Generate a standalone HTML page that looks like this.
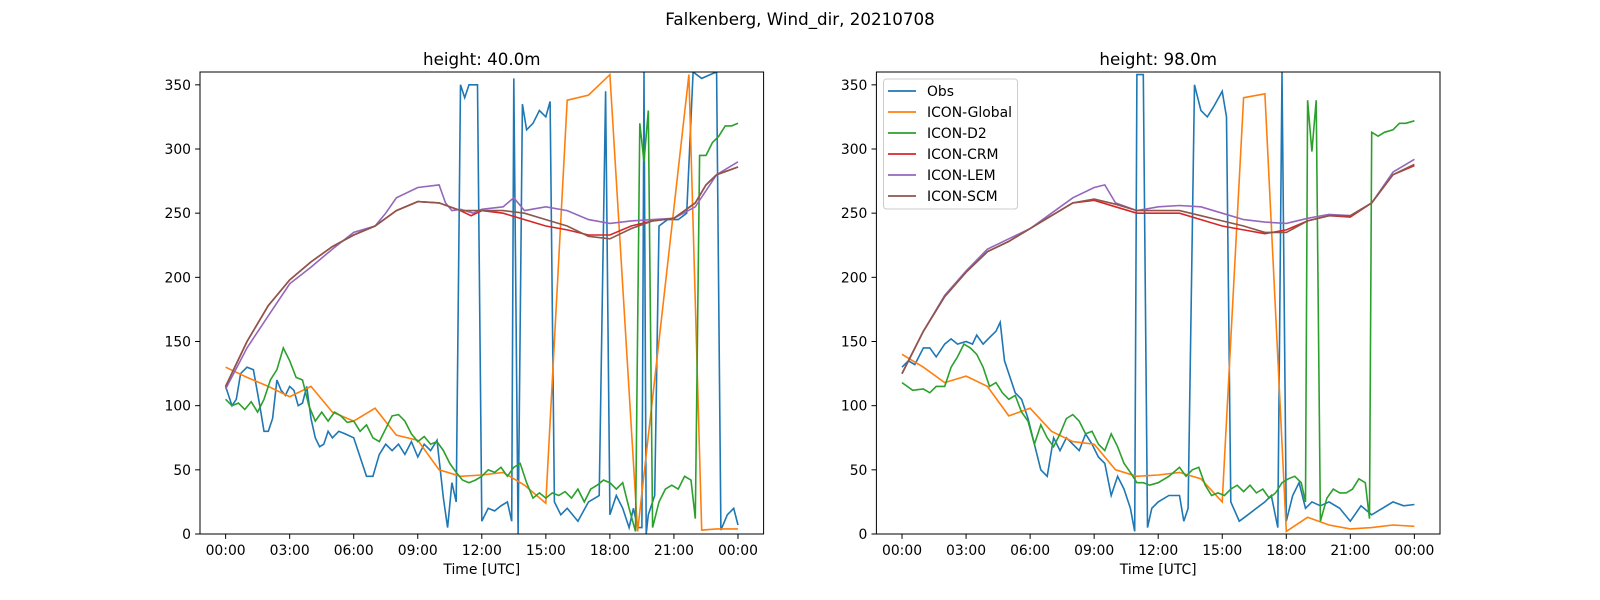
<!DOCTYPE html>
<html><head><meta charset="utf-8"><style>
body{margin:0;background:#fff;}
svg{display:block;font-family:"DejaVu Sans","Liberation Sans",sans-serif;}
</style></head><body>
<svg id="chart" width="1600" height="600" viewBox="0 0 1600 600">
<rect width="1600" height="600" fill="#fff"/>
<text x="800" y="25" font-size="16.7" text-anchor="middle">Falkenberg, Wind_dir, 20210708</text>
</svg>
<script>
const seriesNames=["Obs","ICON-Global","ICON-D2","ICON-CRM","ICON-LEM","ICON-SCM"];
const colors=["#1f77b4","#ff7f0e","#2ca02c","#d62728","#9467bd","#8c564b"];
const yTicks=[0,50,100,150,200,250,300,350];
const xTickHours=[0,3,6,9,12,15,18,21,24];
const xTickLabels=["00:00","03:00","06:00","09:00","12:00","15:00","18:00","21:00","00:00"];
const heights=["height: 40.0m","height: 98.0m"];
// [hour, value] pairs
const obs40=[[0,115],[0.3,100],[0.5,105],[0.7,125],[1,130],[1.3,128],[1.6,100],[1.8,80],[2,80],[2.2,90],[2.4,120],[2.6,112],[2.8,108],[3,115],[3.2,112],[3.4,100],[3.6,102],[3.8,115],[4,90],[4.2,75],[4.4,68],[4.6,70],[4.8,80],[5,75],[5.3,80],[5.6,78],[6,75],[6.3,60],[6.6,45],[6.9,45],[7.2,62],[7.5,70],[7.8,65],[8.1,70],[8.4,62],[8.7,72],[9,60],[9.3,70],[9.6,65],[9.9,73],[10.2,28],[10.4,5],[10.6,40],[10.8,25],[11,350],[11.2,340],[11.4,350],[11.8,350],[12,10],[12.3,20],[12.6,18],[12.9,22],[13.2,25],[13.4,10],[13.5,355],[13.7,0],[13.9,335],[14.1,315],[14.4,320],[14.7,330],[15,325],[15.2,337],[15.4,25],[15.7,15],[16,20],[16.5,10],[17,25],[17.5,30],[17.8,345],[18,15],[18.3,30],[18.6,20],[18.9,5],[19.1,20],[19.3,5],[19.5,5],[19.6,360],[19.7,0],[19.8,15],[20.1,30],[20.3,240],[20.7,245],[21.2,245],[21.6,250],[21.9,360],[22.3,355],[22.7,358],[23,360],[23.2,3],[23.5,15],[23.8,20],[24,7]];
const obs98=[[0,130],[0.3,135],[0.6,132],[1,145],[1.3,145],[1.6,138],[2,148],[2.3,152],[2.6,148],[3,150],[3.3,148],[3.5,155],[3.8,148],[4.1,153],[4.4,158],[4.6,165],[4.8,135],[5,125],[5.3,110],[5.6,105],[5.9,90],[6.2,70],[6.5,50],[6.8,45],[7.1,75],[7.4,65],[7.7,75],[8,70],[8.3,65],[8.6,78],[8.9,70],[9.2,60],[9.5,55],[9.8,30],[10.1,45],[10.4,35],[10.7,20],[10.9,2],[11,358],[11.3,358],[11.5,5],[11.7,20],[12,25],[12.5,30],[13,30],[13.2,10],[13.4,20],[13.7,350],[14,330],[14.3,325],[14.6,333],[15,345],[15.2,325],[15.4,25],[15.8,10],[16.2,15],[16.6,20],[17,25],[17.3,30],[17.6,5],[17.8,360],[18,10],[18.3,30],[18.6,40],[18.9,20],[19.2,25],[19.6,22],[20,25],[20.5,20],[21,10],[21.5,22],[22,15],[22.5,20],[23,25],[23.5,22],[24,23]];
const global40=[[0,130],[1,122],[2,115],[3,107],[4,115],[5,95],[6,88],[7,98],[8,77],[9,73],[10,50],[11,45],[12,46],[13,48],[14,38],[15,24],[16,338],[17,342],[18,358],[19.3,2],[21.7,358],[22.3,3],[23,4],[24,4]];
const global98=[[0,140],[1,130],[2,118],[3,123],[4,115],[5,92],[6,98],[7,80],[8,72],[9,70],[10,50],[11,45],[12,46],[13,48],[14,43],[15,25],[16,340],[17,343],[18,2],[19,13],[20,7],[21,4],[22,5],[23,7],[24,6]];
const d240=[[0,105],[0.3,100],[0.6,102],[0.9,97],[1.2,103],[1.5,95],[1.8,105],[2.1,120],[2.4,128],[2.7,145],[3,135],[3.3,122],[3.6,120],[3.9,100],[4.2,88],[4.5,95],[4.8,88],[5.1,95],[5.4,92],[5.7,87],[6,88],[6.3,80],[6.6,85],[6.9,75],[7.2,72],[7.5,82],[7.8,92],[8.1,93],[8.4,88],[8.7,78],[9,72],[9.3,76],[9.6,70],[9.9,72],[10.2,65],[10.5,55],[10.8,48],[11.1,42],[11.4,40],[11.7,42],[12,45],[12.3,50],[12.6,48],[12.9,52],[13.2,45],[13.5,52],[13.8,55],[14.1,40],[14.4,28],[14.7,32],[15,28],[15.3,32],[15.6,30],[15.9,33],[16.2,28],[16.5,35],[16.8,25],[17.1,35],[17.4,38],[17.7,42],[18,40],[18.3,35],[18.6,40],[18.9,20],[19.2,2],[19.4,320],[19.6,290],[19.8,330],[20,5],[20.3,25],[20.6,35],[20.9,38],[21.2,35],[21.5,45],[21.8,42],[22,12],[22.2,295],[22.5,295],[22.8,305],[23.1,310],[23.4,318],[23.7,318],[24,320]];
const d298=[[0,118],[0.5,112],[1,113],[1.3,110],[1.6,115],[2,115],[2.3,130],[2.6,138],[2.9,148],[3.2,145],[3.5,140],[3.8,130],[4.1,115],[4.4,118],[4.7,110],[5,105],[5.3,108],[5.6,95],[5.9,88],[6.2,70],[6.5,85],[6.8,75],[7.1,68],[7.4,78],[7.7,90],[8,93],[8.3,88],[8.6,78],[8.9,80],[9.2,70],[9.5,65],[9.8,78],[10.1,68],[10.4,55],[10.7,48],[11,40],[11.3,40],[11.6,38],[12,40],[12.5,45],[13,52],[13.3,45],[13.6,50],[13.9,52],[14.2,38],[14.5,30],[14.8,32],[15.1,30],[15.4,35],[15.7,38],[16,33],[16.3,38],[16.6,32],[16.9,35],[17.2,28],[17.5,32],[17.8,40],[18.1,43],[18.4,45],[18.7,40],[18.9,25],[19,338],[19.2,298],[19.4,338],[19.6,10],[19.9,28],[20.2,35],[20.5,32],[20.8,32],[21.1,35],[21.4,43],[21.7,40],[21.9,12],[22,313],[22.3,310],[22.6,313],[23,315],[23.3,320],[23.6,320],[24,322]];
const crm40=[[0,115],[1,150],[2,178],[3,198],[4,212],[5,224],[6,233],[7,240],[8,252],[9,259],[10,258],[11,252],[11.5,248],[12,252],[13,250],[14,245],[15,240],[16,237],[17,233],[18,233],[19,240],[20,244],[21,246],[22,258],[22.5,272],[23,280],[24,286]];
const lem40=[[0,113],[1,145],[2,170],[3,195],[4,208],[5,222],[6,235],[7,240],[7.5,250],[8,262],[9,270],[10,272],[10.3,258],[10.6,252],[11,253],[11.6,250],[12,253],[13,255],[13.5,262],[14,252],[15,255],[16,252],[17,245],[18,242],[19,244],[20,245],[21,246],[22,255],[23,280],[24,290]];
const scm40=[[0,115],[1,150],[2,178],[3,198],[4,212],[5,224],[6,233],[7,240],[8,252],[9,259],[10,258],[11,252],[12,252],[13,252],[14,250],[15,245],[16,240],[17,232],[18,230],[19,238],[20,244],[21,246],[22,258],[22.5,272],[23,280],[24,286]];
const crm98=[[0,125],[1,158],[2,185],[3,204],[4,220],[5,228],[6,238],[7,248],[8,258],[9,260],[10,255],[11,250],[12,250],[13,250],[14,245],[15,240],[16,237],[17,234],[18,237],[19,244],[20,248],[21,247],[22,258],[23,280],[24,287]];
const lem98=[[0,125],[1,158],[2,186],[3,205],[4,222],[5,230],[6,238],[7,250],[8,262],[9,270],[9.5,272],[10,258],[11,252],[12,255],[13,256],[14,255],[15,250],[16,245],[17,243],[18,242],[19,246],[20,249],[21,248],[22,258],[23,282],[24,292]];
const scm98=[[0,125],[1,158],[2,185],[3,204],[4,220],[5,228],[6,238],[7,248],[8,258],[9,261],[10,257],[11,252],[12,252],[13,252],[14,248],[15,244],[16,240],[17,235],[18,235],[19,244],[20,248],[21,248],[22,258],[23,280],[24,288]];
const panels=[[obs40,global40,d240,crm40,lem40,scm40],[obs98,global98,d298,crm98,lem98,scm98]];

const NS="http://www.w3.org/2000/svg";
const svg=document.getElementById("chart");
function mk(tag,attrs,parent){const e=document.createElementNS(NS,tag);for(const k in attrs)e.setAttribute(k,attrs[k]);(parent||svg).appendChild(e);return e;}
const boxes=[{l:200,r:763.6},{l:876.4,r:1440}];
const yTop=72,yBot=534;
boxes.forEach((b,pi)=>{
  const x0=b.l+(b.r-b.l)/(24*1.1)*1.2;const pxh=(b.r-b.l)/(24*1.1);
  const xs=h=>x0+h*pxh;
  const ys=v=>yBot-(v/360)*(yBot-yTop);
  const g=mk("g",{});
  
  
  const t=mk("text",{x:(b.l+b.r)/2,y:yTop-7,"font-size":16.7,"text-anchor":"middle"},g);
  t.textContent=heights[pi];
  
  
  yTicks.forEach(v=>{
    mk("line",{x1:b.l-4.9,x2:b.l,y1:ys(v),y2:ys(v),stroke:"#000"},g);
    const tt=mk("text",{x:b.l-9,y:ys(v)+5,"font-size":13.9,"text-anchor":"end"},g);
    tt.textContent=v;
    
    
  });
  xTickHours.forEach((h,i)=>{
    mk("line",{x1:xs(h),x2:xs(h),y1:yBot,y2:yBot+4.9,stroke:"#000"},g);
    const tt=mk("text",{x:xs(h),y:yBot+21,"font-size":13.9,"text-anchor":"middle"},g);
    tt.textContent=xTickLabels[i];
    
    
  });
  const xl=mk("text",{x:(b.l+b.r)/2,y:yBot+40,"font-size":13.9,"text-anchor":"middle"},g);
  xl.textContent="Time [UTC]";
  
  
  const cp=mk("clipPath",{id:"cp"+pi},g);
  mk("rect",{x:b.l,y:yTop,width:b.r-b.l,height:yBot-yTop},cp);
  panels[pi].forEach((s,si)=>{
    const p=mk("polyline",{points:s.map(d=>xs(d[0]).toFixed(1)+","+ys(d[1]).toFixed(1)).join(" "),fill:"none",stroke:colors[si],"stroke-width":1.6,"clip-path":"url(#cp"+pi+")"},g);
    
    
  });
  mk("rect",{x:b.l,y:yTop,width:b.r-b.l,height:yBot-yTop,fill:"none",stroke:"#000","stroke-width":1},g);
});
const lg=mk("g",{});


mk("rect",{x:883.5,y:79,width:134,height:130,rx:3,fill:"#fff",stroke:"#ccc"},lg);
seriesNames.forEach((n,i)=>{
  const y=91+i*21;
  mk("line",{x1:888,x2:916,y1:y,y2:y,stroke:colors[i],"stroke-width":1.8},lg);
  const t=mk("text",{x:927,y:y+5,"font-size":13.9},lg);
  t.textContent=n;
  
  
});
</script>
</body></html>
